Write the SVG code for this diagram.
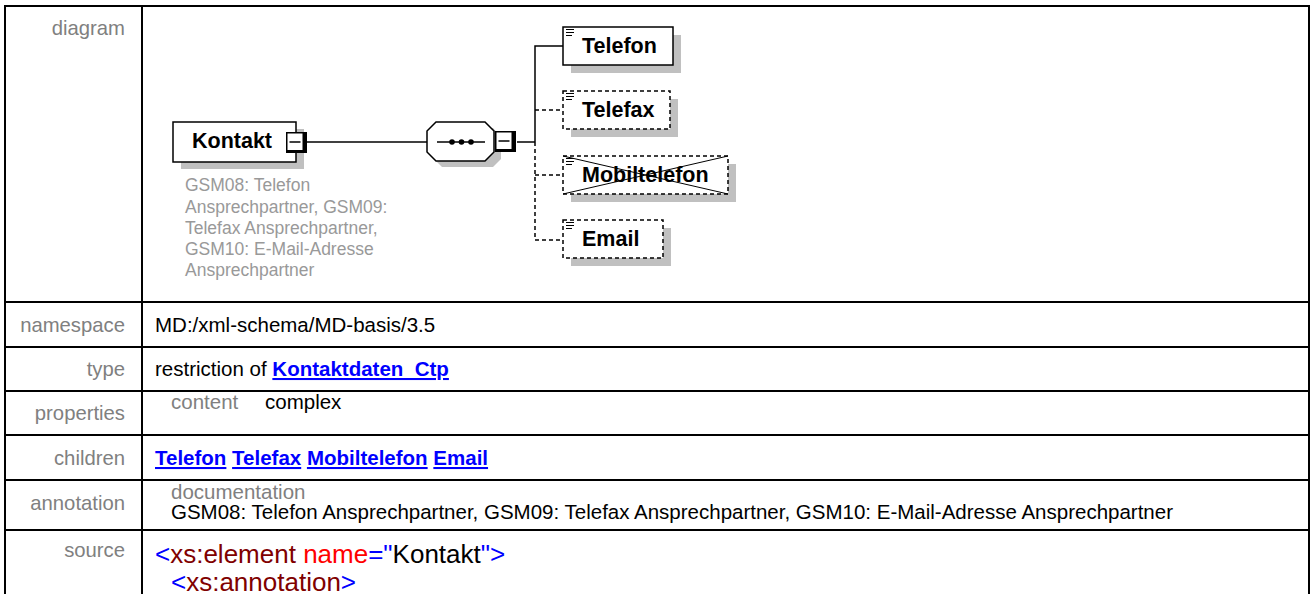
<svg xmlns="http://www.w3.org/2000/svg" width="1311" height="594" viewBox="0 0 1311 594">
<style>
.lbl{font-family:"Liberation Sans",Arial,sans-serif;font-size:20.3px;fill:#808080;text-anchor:end}
.txt{font-family:"Liberation Sans",Arial,sans-serif;font-size:20.5px;fill:#000}
.sub{fill:#808080}
.lnk{font-weight:bold;fill:#0000ff;text-decoration:underline}
.grid{stroke:#000;stroke-width:2;fill:none}
.box{fill:#fff;stroke:#000;stroke-width:1.5}
.dbox{fill:#fff;stroke:#000;stroke-width:1.5;stroke-dasharray:4 3}
.shadow{fill:#c0c0c0}
.name{font-family:"Liberation Sans",Arial,sans-serif;font-size:21.5px;font-weight:bold;fill:#000}
.ann{font-family:"Liberation Sans",Arial,sans-serif;font-size:17.5px;fill:#999}
.conn{stroke:#000;stroke-width:1.5;fill:none}
.dash{stroke-dasharray:4 3}
.src{font-family:"Liberation Sans",Arial,sans-serif;font-size:26px}
.b{fill:#0000ff}.r{fill:#800000}.a{fill:#ff0000}.k{fill:#000}
.ico{stroke:#000;stroke-width:1}
</style>
<defs>
<g id="icon"><line class="ico" x1="0" y1="0.5" x2="8" y2="0.5"/><line class="ico" x1="0" y1="3.5" x2="8" y2="3.5"/><line class="ico" x1="0" y1="6.5" x2="6" y2="6.5"/></g>
<g id="minus"><rect x="0" y="0" width="21" height="21" fill="#000"/><rect x="1.5" y="1.5" width="15" height="16.5" fill="#fff"/><line x1="3.5" y1="10" x2="14.5" y2="10" stroke="#000" stroke-width="1.5"/></g>
</defs>
<rect width="1311" height="594" fill="#fff"/>
<g id="table">
<rect class="grid" x="5" y="6" width="1304" height="620"/>
<line class="grid" x1="142" y1="6" x2="142" y2="594"/>
<line class="grid" x1="5" y1="302" x2="1309" y2="302"/>
<line class="grid" x1="5" y1="347" x2="1309" y2="347"/>
<line class="grid" x1="5" y1="391" x2="1309" y2="391"/>
<line class="grid" x1="5" y1="435" x2="1309" y2="435"/>
<line class="grid" x1="5" y1="480" x2="1309" y2="480"/>
<line class="grid" x1="5" y1="530" x2="1309" y2="530"/>
<text class="lbl" x="125" y="35">diagram</text>
<text class="lbl" x="125" y="332">namespace</text>
<text class="lbl" x="125" y="376">type</text>
<text class="lbl" x="125" y="420">properties</text>
<text class="lbl" x="125" y="465">children</text>
<text class="lbl" x="125" y="510">annotation</text>
<text class="lbl" x="125" y="557">source</text>
<text class="txt" x="155" y="332">MD:/xml-schema/MD-basis/3.5</text>
<text class="txt" x="155" y="376">restriction of <tspan class="lnk">Kontaktdaten_Ctp</tspan></text>
<text class="txt sub" x="171" y="409">content</text>
<text class="txt" x="265" y="409">complex</text>
<text class="txt" x="155" y="465"><tspan class="lnk">Telefon</tspan> <tspan class="lnk">Telefax</tspan> <tspan class="lnk">Mobiltelefon</tspan> <tspan class="lnk">Email</tspan></text>
<text class="txt sub" x="171" y="499">documentation</text>
<text class="txt" x="171" y="519">GSM08: Telefon Ansprechpartner, GSM09: Telefax Ansprechpartner, GSM10: E-Mail-Adresse Ansprechpartner</text>
<text class="src" x="155" y="563"><tspan class="b">&lt;</tspan><tspan class="r">xs:element</tspan><tspan class="a"> name</tspan><tspan class="b">="</tspan><tspan class="k">Kontakt</tspan><tspan class="b">"&gt;</tspan></text>
<text class="src" x="171" y="591"><tspan class="b">&lt;</tspan><tspan class="r">xs:annotation</tspan><tspan class="b">&gt;</tspan></text>
</g>
<g id="connectors">
<line class="conn" x1="307" y1="142" x2="427" y2="142"/>
<line class="conn" x1="517" y1="142" x2="535" y2="142"/>
<polyline class="conn" points="563,46 535,46 535,142"/>
<polyline class="conn dash" points="535,142 535,240 563,240"/>
<line class="conn dash" x1="535" y1="110" x2="563" y2="110"/>
<line class="conn dash" x1="535" y1="175" x2="563" y2="175"/>
</g>
<g id="Kontakt">
<rect class="shadow" x="181" y="129" width="123" height="40"/>
<rect class="box" x="173" y="122" width="123" height="40"/>
<text class="name" x="192" y="148">Kontakt</text>
<use href="#minus" x="286" y="132"/>
<text class="ann"><tspan x="185" y="191">GSM08: Telefon</tspan><tspan x="185" y="213">Ansprechpartner, GSM09:</tspan><tspan x="185" y="234">Telefax Ansprechpartner,</tspan><tspan x="185" y="255">GSM10: E-Mail-Adresse</tspan><tspan x="185" y="276">Ansprechpartner</tspan></text>
</g>
<g id="sequence">
<polygon class="shadow" points="442,128 493,128 501,137 501,159 493,167 442,167 434,159 434,137"/>
<polygon class="box" points="436,122 485,122 494,131 494,152 485,161 436,161 427,152 427,131"/>
<line x1="437" y1="142" x2="485" y2="142" stroke="#000" stroke-width="1.5"/>
<circle cx="452" cy="142" r="2.8"/><circle cx="461.5" cy="142" r="2.8"/><circle cx="471" cy="142" r="2.8"/>
<use href="#minus" x="495" y="131"/>
</g>
<g id="Telefon">
<rect class="shadow" x="571" y="35" width="110" height="38"/>
<rect class="box" x="563" y="27" width="110" height="38"/>
<use href="#icon" x="566" y="29"/>
<text class="name" x="582" y="53">Telefon</text>
</g>
<g id="Telefax">
<rect class="shadow" x="571" y="99" width="107" height="38"/>
<rect class="dbox" x="563" y="91" width="107" height="38"/>
<use href="#icon" x="566" y="93"/>
<text class="name" x="582" y="117">Telefax</text>
</g>
<g id="Mobiltelefon">
<rect class="shadow" x="571" y="164" width="165" height="38"/>
<rect class="dbox" x="563" y="156" width="165" height="38"/>
<use href="#icon" x="566" y="158"/>
<text class="name" x="582" y="182">Mobiltelefon</text>
<line x1="563" y1="156" x2="728" y2="194" stroke="#000" stroke-width="1"/>
<line x1="563" y1="194" x2="728" y2="156" stroke="#000" stroke-width="1"/>
</g>
<g id="Email">
<rect class="shadow" x="571" y="228" width="100" height="38"/>
<rect class="dbox" x="563" y="220" width="100" height="38"/>
<use href="#icon" x="566" y="222"/>
<text class="name" x="582" y="246">Email</text>
</g>
</svg>
